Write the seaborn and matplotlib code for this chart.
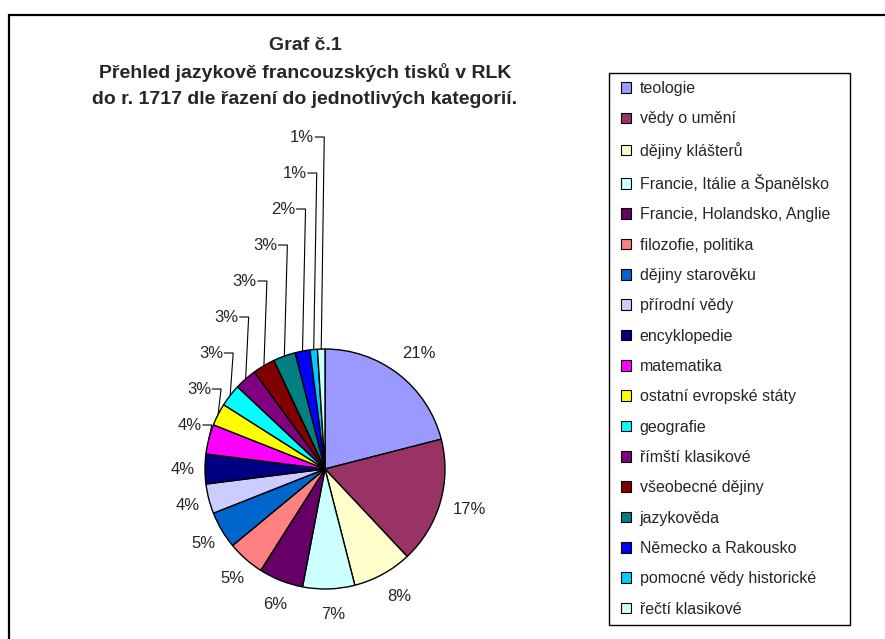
import numpy as np
import matplotlib
matplotlib.use("Agg")
import matplotlib.pyplot as plt
import matplotlib.patches as mpatches
import seaborn as sns

sns.set_style("white")
plt.rcParams['font.family'] = ['Liberation Sans', 'DejaVu Sans']

# data
categories = ["teologie", "vědy o umění", "dějiny klášterů",
              "Francie, Itálie a Španělsko", "Francie, Holandsko, Anglie",
              "filozofie, politika", "dějiny starověku", "přírodní vědy",
              "encyklopedie", "matematika", "ostatní evropské státy",
              "geografie", "římští klasikové", "všeobecné dějiny",
              "jazykověda", "Německo a Rakousko", "pomocné vědy historické",
              "řečtí klasikové"]
shares = [21, 17, 8, 7, 6, 5, 5, 4, 4, 4, 3, 3, 3, 3, 3, 2, 1, 1]
colors = ["#9999FF", "#993366", "#FFFFCC", "#CCFFFF", "#660066", "#FF8080",
          "#0066CC", "#CCCCFF", "#000080", "#FF00FF", "#FFFF00", "#00FFFF",
          "#800080", "#800000", "#008080", "#0000FF", "#00CCFF", "#CCFFFF"]
title_lines = ["Graf č.1",
               "Přehled jazykově francouzských tisků v RLK",
               "do r. 1717 dle řazení do jednotlivých kategorií."]

W, H = 885, 639
fig = plt.figure(figsize=(W / 100, H / 100), dpi=100)
ax = fig.add_axes([0, 0, 1, 1])

cx, cy, R = 325, H - 469, 120
palette = sns.color_palette(colors)
wedges, _ = ax.pie(shares, colors=palette, startangle=90, counterclock=False,
                   center=(cx, cy), radius=R,
                   wedgeprops=dict(edgecolor="black", linewidth=1.0))
ax.set_xlim(0, W)
ax.set_ylim(0, H)
ax.set_aspect("equal")
ax.axis("off")

# percentage labels
total = sum(shares)
cum = np.cumsum([0] + shares[:-1])
first_leader = 9
for i, v in enumerate(shares):
    mid = np.deg2rad(90 - (cum[i] + v / 2) / total * 360)
    txt = f"{round(v / total * 100)}%"
    if i < first_leader:
        lx = cx + 146 * np.cos(mid) + 4
        ly = cy + 146 * np.sin(mid)
        ax.text(lx, ly, txt, ha="center", va="center", fontsize=12)
    else:
        ex = cx + R * np.cos(mid)
        ey = cy + R * np.sin(mid)
        k = i - first_leader
        ly = (H - 425) + 36 * k
        tick_end = ex + 3
        ax.plot([tick_end - 9, tick_end, ex], [ly, ly, ey], color="black",
                lw=0.8, solid_joinstyle="miter")
        ax.text(tick_end - 10, ly, txt, ha="right", va="center", fontsize=12)

# title
for j, line in enumerate(title_lines):
    fig.text(305 / W, 1 - (45 + 27.5 * j) / H, line, ha="center", va="center",
             fontsize=14, fontweight="bold")

# legend
handles = [mpatches.Patch(facecolor=c, edgecolor="black", linewidth=0.8)
           for c in palette]
leg = fig.legend(handles, categories, loc="upper left",
                 bbox_to_anchor=(621 / W, 1 - 81 / H), borderaxespad=0,
                 fontsize=11.5, frameon=False,
                 handlelength=0.62, handleheight=0.62, handletextpad=0.55,
                 labelspacing=0.96, borderpad=0)
fig.patches.append(mpatches.Rectangle((608.5 / W, 1 - 625 / H), 241 / W, 552 / H,
                                      transform=fig.transFigure, fill=False,
                                      edgecolor="black", linewidth=1.0))

# outer chart border (extends past right/bottom edge)
fig.patches.append(mpatches.Rectangle((8.5 / W, -0.05), 1.1, (H - 15) / H + 0.05,
                                      transform=fig.transFigure, fill=False,
                                      edgecolor="black", linewidth=1.6))

fig.savefig("out.png", dpi=100)
